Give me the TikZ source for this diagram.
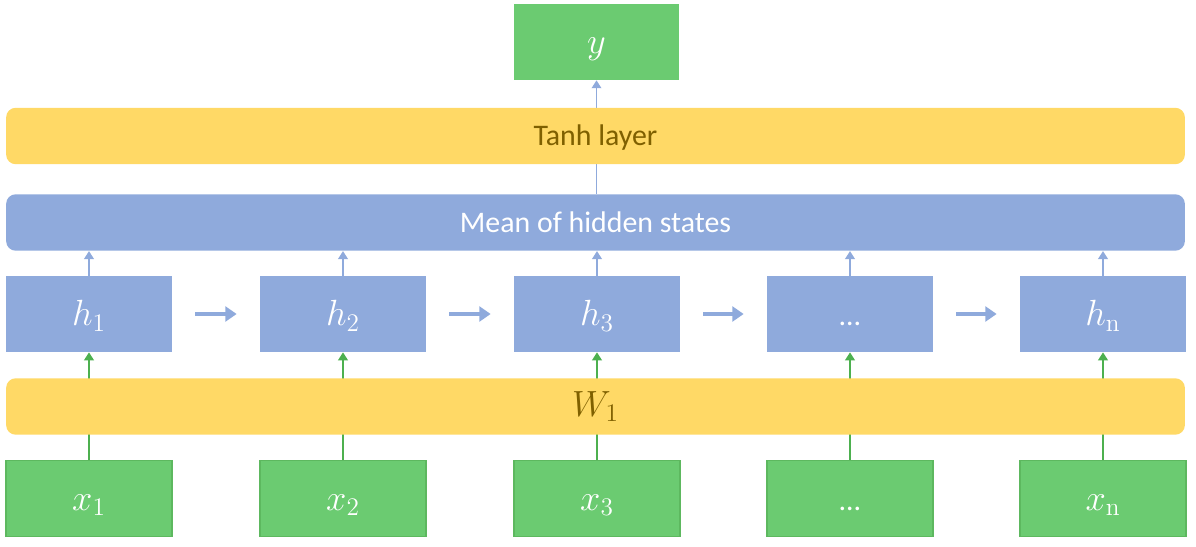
\documentclass[tikz,border=0pt]{standalone}
\usepackage[no-math]{fontspec}
\setmainfont{Carlito}
\usetikzlibrary{arrows.meta}

\definecolor{boxblue}{HTML}{8FAADC}
\definecolor{boxgreen}{HTML}{6BCB71}
\definecolor{edgegreen}{HTML}{5DB85F}
\definecolor{linegreen}{HTML}{4DB04F}
\definecolor{layeryellow}{HTML}{FFD966}
\definecolor{layertext}{HTML}{7F6000}

\begin{document}
\begin{tikzpicture}[x=0.02cm,y=-0.02cm,
    cell/.style={rectangle,inner sep=0pt,minimum width=3.32cm,minimum height=1.52cm,
      text height=16pt,text depth=2.4pt,text=white,font=\fontsize{20}{24}\selectfont},
    hbox/.style={cell,fill=boxblue},
    xbox/.style={cell,fill=boxgreen,draw=edgegreen,line width=0.8pt},
    layer/.style={rectangle,rounded corners=5.5pt,inner sep=0pt,minimum width=23.58cm,
      minimum height=1.13cm,text height=12pt,text depth=0.8pt,font=\fontsize{17}{20}\selectfont},
    bluearrow/.style={draw=boxblue,line width=0.85pt,-{Triangle[length=4.5pt,width=5.5pt]}},
    greenarrow/.style={draw=linegreen,line width=0.85pt,-{Triangle[length=4.5pt,width=5.5pt]}},
    steparrow/.style={draw=boxblue,line width=2.8pt,-{Triangle[length=6.5pt,width=8.5pt]},
      shorten <=0.46cm,shorten >=0.46cm}]
  \useasboundingbox (0,0) rectangle (1196,547);

  % hidden states and inputs
  \foreach \i/\cx/\hl/\xl in {1/89/{$h_1$}/{$x_1$},2/343/{$h_2$}/{$x_2$},
      3/597/{$h_3$}/{$x_3$},4/850/{\fontsize{17}{20}\selectfont…}/{\fontsize{17}{20}\selectfont…},
      5/1103/{$h_\mathrm{n}$}/{$x_\mathrm{n}$}} {
    \node[hbox] (h\i) at (\cx,314) {\hl};
    \node[xbox] (x\i) at (\cx,498.5) {\xl};
    \draw[greenarrow] (x\i) -- (h\i);
  }

  % recurrence
  \foreach \i [evaluate=\i as \j using int(\i+1)] in {1,...,4}
    \draw[steparrow] (h\i) -- (h\j);

  % input layer
  \node[layer,fill=layeryellow,text=layertext] (w1) at (595.5,406.5)
    {\fontsize{20}{24}\selectfont$W_1$};

  % mean
  \node[layer,fill=boxblue,text=white] (mean) at (595.5,222.5) {Mean of hidden states};
  \foreach \i in {1,...,5}
    \draw[bluearrow] (h\i.north) -- (h\i.north |- mean.south);

  % output
  \node[cell,fill=boxgreen] (out) at (596.5,42) {$y$};
  \draw[bluearrow] (out.south |- mean.north) -- (out.south);
  \node[layer,fill=layeryellow,text=layertext] (tanh) at (595.5,136) {Tanh layer};
\end{tikzpicture}
\end{document}
